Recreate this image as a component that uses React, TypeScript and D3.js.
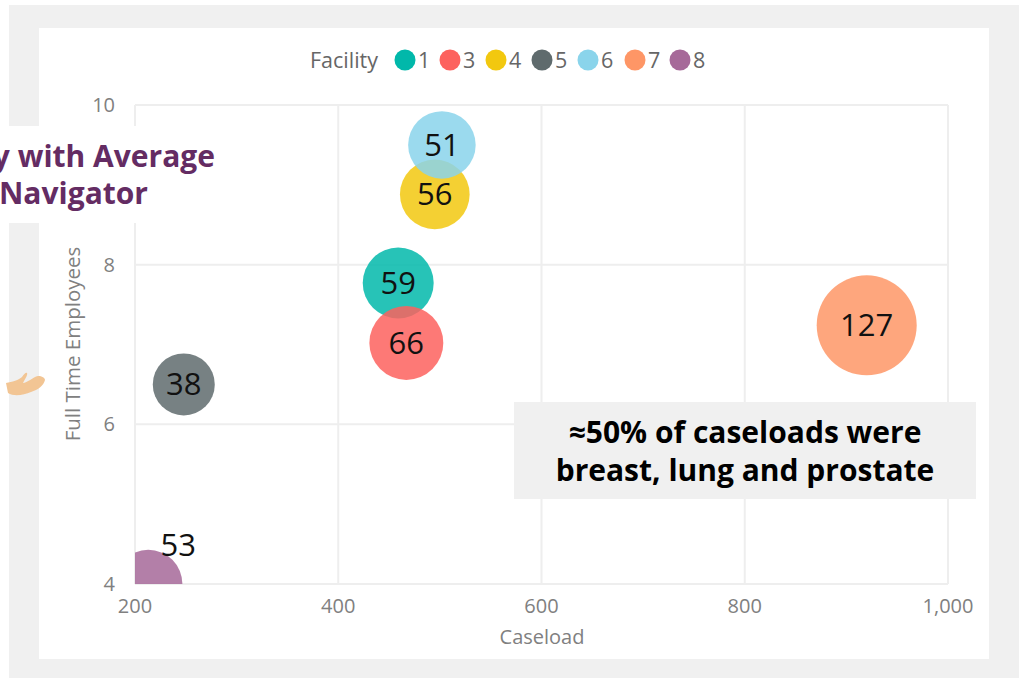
import React, { useEffect, useRef } from 'react';
import * as d3 from 'd3';

const facilities = ['1', '3', '4', '5', '6', '7', '8'];
const caseload = [459, 467, 495, 248, 502, 920, 213];
const fullTimeEmployees = [7.77, 7.02, 8.88, 6.5, 9.5, 7.24, 4.0];
const avgPerNavigator = [59, 66, 56, 38, 51, 127, 53];
const colors = ['#01B8AA', '#FD625E', '#F2C80F', '#5F6B6D', '#8AD4EB', '#FE9666', '#A66999'];
const xTicks = [200, 400, 600, 800, 1000];
const yTicks = [4, 6, 8, 10];

const width = 1024;
const height = 682;
const font = '"Open Sans", "Noto Sans", sans-serif';
const axisGrey = '#808080';

export default function App() {
  const ref = useRef<SVGSVGElement>(null);

  useEffect(() => {
    const svg = d3.select(ref.current);
    svg.selectAll('*').remove();

    const x = d3.scaleLinear().domain([200, 1000]).range([135, 948]);
    const y = d3.scaleLinear().domain([4, 10]).range([584, 105]);
    const r = d3.scaleLinear().domain([38, 127]).range([31, 50]);

    // background frame
    svg.append('rect').attr('x', 9).attr('y', 5).attr('width', 1010).attr('height', 673).attr('fill', '#f0f0f0');
    svg.append('rect').attr('x', 39).attr('y', 28).attr('width', 950).attr('height', 631).attr('fill', '#fff');

    svg.append('clipPath').attr('id', 'plot')
      .append('rect').attr('x', 135).attr('y', 105).attr('width', 813).attr('height', 479);

    // grid
    svg.append('g').selectAll('line').data(xTicks).enter().append('line')
      .attr('x1', d => x(d)).attr('x2', d => x(d))
      .attr('y1', y(10)).attr('y2', y(4))
      .attr('stroke', '#eeeeee').attr('stroke-width', 2);
    svg.append('g').selectAll('line').data(yTicks).enter().append('line')
      .attr('x1', x(200)).attr('x2', x(1000))
      .attr('y1', d => y(d)).attr('y2', d => y(d))
      .attr('stroke', '#eeeeee').attr('stroke-width', 2);

    // tick labels
    svg.append('g').selectAll('text').data(xTicks).enter().append('text')
      .attr('x', d => x(d)).attr('y', 613)
      .attr('text-anchor', 'middle').attr('font-size', 20).attr('fill', axisGrey).attr('font-family', font)
      .text(d => d3.format(',')(d));
    svg.append('g').selectAll('text').data(yTicks).enter().append('text')
      .attr('x', 115).attr('y', d => y(d) + 7)
      .attr('text-anchor', 'end').attr('font-size', 20).attr('fill', axisGrey).attr('font-family', font)
      .text(d => d);

    svg.append('text').attr('x', 542).attr('y', 644).attr('text-anchor', 'middle')
      .attr('font-size', 20).attr('fill', axisGrey).attr('font-family', font).text('Caseload');
    svg.append('text').attr('transform', 'translate(80,344) rotate(-90)').attr('text-anchor', 'middle')
      .attr('font-size', 20.5).attr('fill', axisGrey).attr('font-family', font).text('Full Time Employees');

    // bubbles, clipped to the plot area
    const idx = d3.range(facilities.length);
    svg.append('g').attr('clip-path', 'url(#plot)').selectAll('circle').data(idx).enter().append('circle')
      .attr('cx', i => x(caseload[i])).attr('cy', i => y(fullTimeEmployees[i]))
      .attr('r', i => r(avgPerNavigator[i]))
      .attr('fill', i => colors[i]).attr('fill-opacity', 0.85);

    svg.append('g').selectAll('text').data(idx).enter().append('text')
      .attr('x', i => x(caseload[i]) + (i === 6 ? 30 : 0))
      .attr('y', i => (i === 6 ? 556 : y(fullTimeEmployees[i]) + 11))
      .attr('text-anchor', 'middle').attr('font-size', 31).attr('fill', '#111').attr('font-family', font)
      .text(i => avgPerNavigator[i]);

    // legend
    const legendX = [405, 450, 496, 542, 588, 635, 680];
    const legend = svg.append('g');
    legend.append('text').attr('x', 310).attr('y', 68).attr('font-size', 21.5).attr('fill', '#666').attr('font-family', font).text('Facility');
    idx.forEach(i => {
      legend.append('circle').attr('cx', legendX[i]).attr('cy', 60).attr('r', 10.5).attr('fill', colors[i]);
      legend.append('text').attr('x', legendX[i] + 13).attr('y', 68).attr('font-size', 21.5).attr('fill', '#666').attr('font-family', font).text(facilities[i]);
    });

    // title box (runs off the left edge in the source slide)
    svg.append('rect').attr('x', 0).attr('y', 126).attr('width', 220).attr('height', 97).attr('fill', '#fff');
    svg.append('text').attr('x', 215).attr('y', 167).attr('text-anchor', 'end').attr('font-size', 30).attr('font-weight', 700)
      .attr('fill', '#642c63').attr('font-family', font).text('y with Average');
    svg.append('text').attr('x', 148).attr('y', 204).attr('text-anchor', 'end').attr('font-size', 30).attr('font-weight', 700)
      .attr('fill', '#642c63').attr('font-family', font).text('Navigator');

    // callout
    svg.append('rect').attr('x', 514).attr('y', 402).attr('width', 462).attr('height', 97).attr('fill', '#f0f0f0');
    svg.append('text').attr('x', 745).attr('y', 443).attr('text-anchor', 'middle').attr('font-size', 30).attr('font-weight', 700)
      .attr('fill', '#000').attr('font-family', font).text('≈50% of caseloads were');
    svg.append('text').attr('x', 745).attr('y', 481).attr('text-anchor', 'middle').attr('font-size', 30).attr('font-weight', 700)
      .attr('fill', '#000').attr('font-family', font).text('breast, lung and prostate');

    // hand icon
    svg.append('path')
      .attr('d', 'M6,383 C12,382 19,380 22,377 C24,374 26,372 27,373 C28,375 25,379 23,383 C27,383 33,377 38,376 C42,376 45,378 45,380 C44,385 38,390 31,392 C24,395 14,397 8,393 Z')
      .attr('fill', '#f2c594');
  }, []);

  return <svg ref={ref} width={width} height={height} style={{ position: 'absolute', left: 0, top: 0 }} />;
}
